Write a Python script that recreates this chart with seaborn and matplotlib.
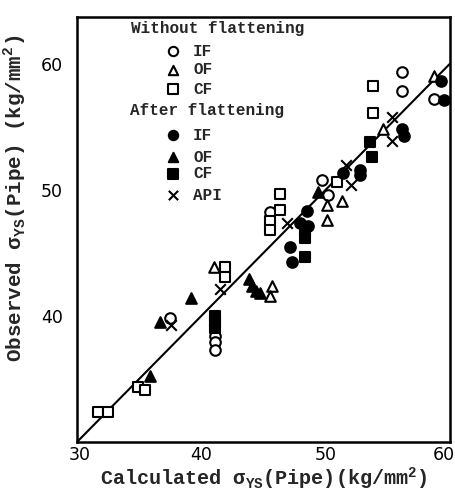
import matplotlib
matplotlib.use("Agg")
import matplotlib.pyplot as plt
import matplotlib.transforms as mtransforms
import seaborn as sns
import pandas as pd

# ---- data ----
wo_if_x = [37.5, 41.1, 41.1, 41.1, 45.5, 49.7, 50.2, 56.1, 56.1, 58.7]
wo_if_y = [39.8, 38.4, 37.9, 37.3, 48.2, 50.8, 49.6, 59.3, 57.8, 57.2]

wo_of_x = [41.0, 45.7, 45.5, 50.1, 51.3, 50.1, 54.6, 58.7]
wo_of_y = [43.9, 42.4, 41.6, 48.8, 49.1, 47.6, 54.8, 59.0]

wo_cf_x = [31.7, 32.5, 34.9, 35.5, 41.9, 41.9, 45.5, 45.5, 46.3, 46.3, 50.9, 53.8, 53.8]
wo_cf_y = [32.4, 32.4, 34.4, 34.1, 43.9, 43.1, 47.5, 46.8, 49.7, 48.4, 50.6, 58.2, 56.1]

af_if_x = [47.1, 47.3, 47.9, 48.6, 48.5, 51.4, 52.8, 52.8, 56.1, 56.3, 59.3, 59.5]
af_if_y = [45.5, 44.3, 47.4, 47.1, 48.3, 51.3, 51.6, 51.2, 54.8, 54.3, 58.6, 57.1]

af_of_x = [35.9, 36.7, 39.2, 43.8, 44.1, 44.4, 44.7, 49.4]
af_of_y = [35.2, 39.5, 41.4, 42.9, 42.4, 42.0, 41.8, 49.8]

af_cf_x = [41.1, 41.1, 41.1, 48.3, 48.3, 48.3, 53.6, 53.7]
af_cf_y = [40.0, 39.5, 39.0, 46.7, 46.2, 44.7, 53.8, 52.6]

api_x = [37.6, 41.5, 46.9, 51.6, 52.0, 55.3, 55.3]
api_y = [39.3, 42.1, 47.4, 52.0, 50.4, 55.8, 53.9]

diag = [30, 60]
xticks = [30, 40, 50, 60]
yticks = [40, 50, 60]

# ---- figure ----
sns.set_style("white")
plt.rcParams["font.family"] = ["DejaVu Sans"]
plt.rcParams["mathtext.fontset"] = "custom"

fig = plt.figure(figsize=(4.55, 4.91), dpi=100)
ax = fig.add_axes([77 / 455, 1 - 442 / 491, 373 / 455, 425 / 491])

groups = [
    (wo_if_x, wo_if_y, "o", "white"),
    (wo_of_x, wo_of_y, "^", "white"),
    (wo_cf_x, wo_cf_y, "s", "white"),
    (af_if_x, af_if_y, "o", "black"),
    (af_of_x, af_of_y, "^", "black"),
    (af_cf_x, af_cf_y, "s", "black"),
]
for gx, gy, mk, fc in groups:
    df = pd.DataFrame({"x": gx, "y": gy})
    sns.scatterplot(data=df, x="x", y="y", marker=mk, s=58, facecolor=fc,
                    edgecolor="black", linewidth=1.5, ax=ax, zorder=3)
df = pd.DataFrame({"x": api_x, "y": api_y})
sns.scatterplot(data=df, x="x", y="y", marker="x", s=58, color="black",
                linewidth=1.5, ax=ax, zorder=3)

sns.lineplot(x=diag, y=diag, color="black", linewidth=1.5, ax=ax, zorder=2)

ax.set_xlim(30, 60)
ax.set_ylim(30, 63.7)
ax.set_xticks(xticks)
ax.set_yticks(yticks)
ax.tick_params(axis="both", direction="in", length=4, width=1.2,
               labelsize=12.5, colors="black")
ax.tick_params(axis="x", pad=3)
ax.tick_params(axis="y", pad=10)
for sp in ax.spines.values():
    sp.set_visible(True)
    sp.set_linewidth(1.8)
    sp.set_color("black")

# shift the end x tick labels a little so they stay inside the figure
fig.canvas.draw()
lbls = ax.get_xticklabels()
shift = mtransforms.ScaledTranslation(-6 / 100, 0, fig.dpi_scale_trans)
lbls[-1].set_transform(lbls[-1].get_transform() + shift)
shift0 = mtransforms.ScaledTranslation(3 / 100, 0, fig.dpi_scale_trans)
lbls[0].set_transform(lbls[0].get_transform() + shift0)

mono = "Liberation Mono"
ax.set_xlabel(r"Calculated σ$_{\mathregular{YS}}$(Pipe)(kg/mm$^{\mathregular{2}}$)",
              fontfamily=mono, fontweight="bold", fontsize=14.5, labelpad=1)
ax.set_ylabel(r"Observed σ$_{\mathregular{YS}}$(Pipe) (kg/mm$^{\mathregular{2}}$)",
              fontfamily=mono, fontweight="bold", fontsize=15)
ax.yaxis.set_label_coords(-0.128, 0.572)

# ---- legend (manual) ----
def fx(px):
    return (px - 77) / 373

def fy(py):
    return (442 - py) / 425

tkw = dict(transform=ax.transAxes, fontfamily=mono, fontweight="bold",
           fontsize=11.5, va="center", ha="left")
ax.text(fx(131), fy(28), "Without flattening", **tkw)
ax.text(fx(130), fy(110), "After flattening", **tkw)
entries = [
    (51, "o", "white", "IF"),
    (70, "^", "white", "OF"),
    (89, "s", "white", "CF"),
    (135, "o", "black", "IF"),
    (157, "^", "black", "OF"),
    (174, "s", "black", "CF"),
    (195, "x", "black", "API"),
]
for py, mk, fc, lab in entries:
    if mk == "x":
        ax.scatter([fx(173)], [fy(py)], marker=mk, s=45, color="black",
                   linewidth=1.5, transform=ax.transAxes, clip_on=False)
    else:
        ax.scatter([fx(173)], [fy(py)], marker=mk, s=45, facecolor=fc,
                   edgecolor="black", linewidth=1.5, transform=ax.transAxes,
                   clip_on=False)
    ax.text(fx(193), fy(py), lab, **tkw)

fig.savefig("out.png", dpi=100)
